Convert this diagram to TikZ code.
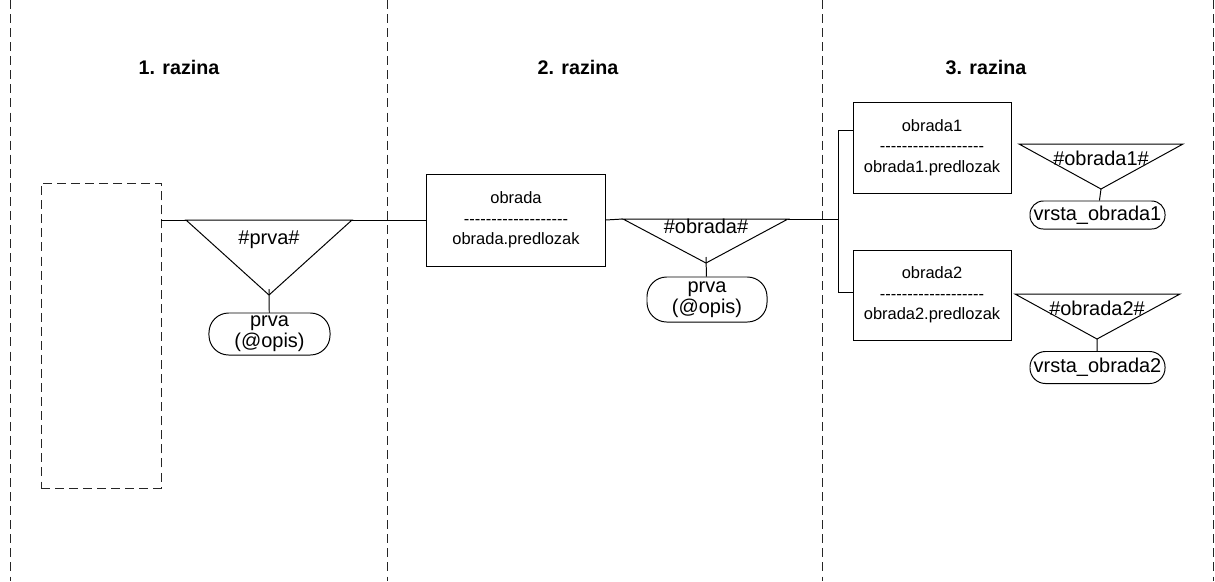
\documentclass[tikz,border=0pt]{standalone}
\usepackage{fontspec}
\setmainfont{Liberation Sans}
\tikzset{
  razina/.style={font=\fontsize{14}{16}\selectfont\bfseries},
  granica/.style={dash pattern=on 6.4pt off 3.6pt, line width=0.65pt, draw=black!85},
  tablica/.style={draw, line width=0.7pt, align=center, inner sep=0pt, font=\fontsize{11.7}{14.6}\selectfont},
  oznaka/.style={font=\fontsize{14.2}{15.5}\selectfont, inner sep=0pt},
  atribut/.style={draw, line width=0.7pt, rounded corners=14pt, align=center, inner sep=0pt, font=\fontsize{14.2}{15}\selectfont},
  veza/.style={line width=0.7pt}
}
\newcommand{\crtice}{\foreach \i in {1,...,19}{-\kern0pt}}
\begin{document}
\begin{tikzpicture}[x=0.025cm,y=-0.025cm]
\useasboundingbox (0,0) rectangle (1215,581);
% granice razina
\draw[granica] (10,0) -- (10,581);
\draw[granica] (387,0) -- (387,581);
\draw[granica] (822,0) -- (822,581);
\draw[granica] (1213,0) -- (1213,581);
\node[razina] (r1) at (179,67) {1. razina};
\node[razina] (r2) at (578,67) {2. razina};
\node[razina] (r3) at (986,67) {3. razina};
% 1. razina
\node[draw, granica, minimum width=3cm, minimum height=7.625cm] (korijen) at (101,335.5) {};
\coordinate (t1l) at (186,220);
\coordinate (t1r) at (352,220);
\coordinate (t1a) at (269,295);
\coordinate (t1v) at (269,289);
\draw[veza] (t1l) -- (t1r) -- (t1a) -- cycle;
\node[oznaka] (t1) at (269,240) {\#prva\#};
\node[atribut, minimum width=3.025cm, minimum height=1.05cm] (p1) at (269.5,334) {prva\\(@opis)};
\draw[veza] (korijen.east |- t1l) -- (t1l);
\draw[veza] (t1v) -- (p1);
% 2. razina
\node[tablica, minimum width=4.45cm, minimum height=2.3cm] (obrada) at (516,220) {obrada\\\crtice\\obrada.predlozak};
\coordinate (t2l) at (623,219);
\coordinate (t2r) at (788,219);
\coordinate (t2a) at (706,263);
\coordinate (t2v) at (706,257);
\draw[veza] (t2l) -- (t2r) -- (t2a) -- cycle;
\node[oznaka] (t2) at (706,226) {\#obrada\#};
\node[atribut, minimum width=3cm, minimum height=1.125cm] (p2) at (707,299.5) {prva\\(@opis)};
\draw[veza] (t1r) -- (obrada.west);
\draw[veza] (obrada.east) -- (t2l);
\draw[veza] (t2v) -- (p2);
% 3. razina
\node[tablica, minimum width=3.95cm, minimum height=2.275cm] (obrada1) at (932,147.5) {obrada1\\\crtice\\obrada1.predlozak};
\node[tablica, minimum width=3.95cm, minimum height=2.25cm] (obrada2) at (932,295) {obrada2\\\crtice\\obrada2.predlozak};
\coordinate (racva) at (838,219);
\coordinate (g1) at (838,130);
\coordinate (g2) at (838,292);
\draw[veza] (t2r) -- (racva);
\draw[veza] (obrada1.west |- g1) -- (g1) -- (g2) -- (obrada2.west |- g2);
\coordinate (t3l) at (1019,144);
\coordinate (t3r) at (1183,144);
\coordinate (t3a) at (1101,189);
\draw[veza] (t3l) -- (t3r) -- (t3a) -- cycle;
\node[oznaka] (t3) at (1101,158) {\#obrada1\#};
\node[atribut, rounded corners=9.5pt, minimum width=3.375cm, minimum height=0.7cm] (v1) at (1097.5,215) {vrsta\_obrada1};
\draw[veza] (t3a) -- (v1);
\coordinate (t4l) at (1015,294);
\coordinate (t4r) at (1180,294);
\coordinate (t4a) at (1097,339);
\draw[veza] (t4l) -- (t4r) -- (t4a) -- cycle;
\node[oznaka] (t4) at (1097,308) {\#obrada2\#};
\node[atribut, rounded corners=11pt, minimum width=3.375cm, minimum height=0.8cm] (v2) at (1097.5,367.5) {vrsta\_obrada2};
\draw[veza] (t4a) -- (v2);
\end{tikzpicture}
\end{document}
